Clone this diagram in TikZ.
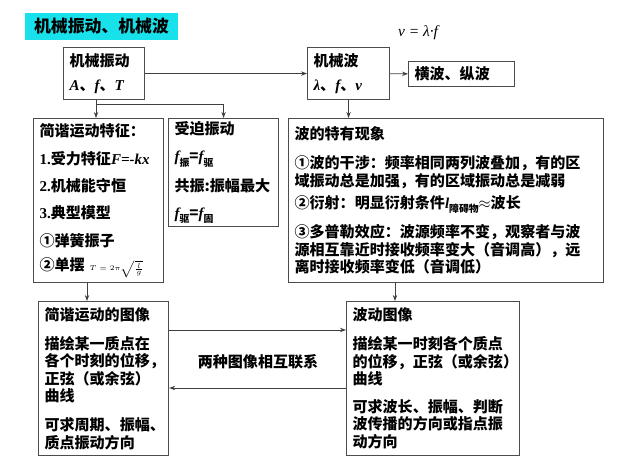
\documentclass[tikz,border=0pt]{standalone}
\usepackage{fontspec}
\newfontfamily\cjk{Noto Sans CJK SC}
\newfontfamily\tms{Liberation Serif}
\usetikzlibrary{arrows.meta,positioning,calc}
\definecolor{ttlcyan}{RGB}{25,225,235}
\newcommand\vr[1]{{\tms\bfseries\itshape #1}}
\newcommand\nm[1]{{\tms\bfseries #1}}
\newcommand\sbs[1]{\raisebox{-0.5ex}{\fontsize{7}{7}\selectfont #1}}

\begin{document}
\begin{tikzpicture}[
  x=0.025cm, y=-0.025cm,
  font={\cjk\bfseries\fontsize{10.7}{12.5}\selectfont},
  bx/.style={draw=black!70, line width=0.8pt, anchor=north west, align=left, inner xsep=0.15cm, inner ysep=0pt},
  ln/.style={draw=black!75, line width=0.6pt},
  ar/.style={ln, -{Stealth[length=1.5mm, width=1.1mm]}}]
\useasboundingbox (0,0) rectangle (640,465);
\node[fill=ttlcyan, minimum width=3.825cm, minimum height=0.675cm, inner sep=0pt, font={\cjk\bfseries\fontsize{12}{14}\selectfont}] (ttl) at (101.5,26.5) {机械振动、机械波};
\node[bx, minimum width=2.025cm, minimum height=1.3cm, text width=1.725cm] (zd) at (63,47) {机械振动\\[5pt]\vr{A}、\vr{f}、\vr{T}};
\node[bx, minimum width=2.05cm, minimum height=1.3cm, text width=1.75cm] (bo) at (307,47) {机械波\\[5pt]\vr{λ}、\vr{f}、\vr{v}};
\node[bx, minimum width=2.65cm, minimum height=0.625cm, text width=2.35cm] (hz) at (408,61) {横波、纵波};
\node[font={\tms\itshape\fontsize{11}{13}\selectfont}] (vf) at (418,33) {v = λ·f};
\node[bx, minimum width=3.25cm, minimum height=4.1cm, text width=2.95cm] (jt) at (33,118) {简谐运动特征：\\[7pt]\nm{1.}受力特征\vr{F=-kx}\\[7pt]\nm{2.}机械能守恒\\[7pt]\nm{3.}典型模型\\[7pt]①弹簧振子\\[5pt]②单摆 {\tiny$T=2\pi\sqrt{\frac{l}{g}}$}};
\node[bx, minimum width=2.75cm, minimum height=2.7cm, text width=2.45cm] (sp) at (168,118) {受迫振动\\[7pt]\vr{f}\sbs{振}=\vr{f}\sbs{驱}\\[7pt]共振:振幅最大\\[7pt]\vr{f}\sbs{驱}=\vr{f}\sbs{固}};
\node[bx, minimum width=7.875cm, minimum height=4.1cm, text width=7.575cm] (xx) at (288,118) {波的特有现象\\[8pt]①波的干涉：频率相同两列波叠加，有的区\\域振动总是加强，有的区域振动总是减弱\\[3pt]②衍射：明显衍射条件\vr{l}\sbs{障碍物}$\approx$波长\\[7pt]③多普勒效应：波源频率不变，观察者与波\\源相互靠近时接收频率变大（音调高），远\\离时接收频率变低（音调低）};
\node[bx, minimum width=3.25cm, minimum height=3.85cm, text width=2.95cm] (tx) at (38,301) {简谐运动的图像\\[8pt]描绘某一质点在\\各个时刻的位移，\\正弦（或余弦）\\曲线\\[8pt]可求周期、振幅、\\质点振动方向};
\node[bx, minimum width=4.325cm, minimum height=3.85cm, text width=4.025cm] (bt) at (346,301) {波动图像\\[8pt]描绘某一时刻各个质点\\的位移，正弦（或余弦）\\曲线\\[7pt]可求波长、振幅、判断\\波传播的方向或指点振\\动方向};
\node (lk) at (258,362) {两种图像相互联系};
\coordinate (j1) at (96,104);
\coordinate (j2) at (87,290);
\coordinate (j3) at (395,290);
\coordinate (up) at (257,330);
\coordinate (dn) at (257,388);
\draw[ar] (zd) -- (bo);
\draw[ar] (bo) -- (hz);
\draw[ar] (zd.south -| j1) -- (jt.north -| j1);
\draw[ar] (j1) -| (sp.north);
\draw[ar] (bo.south) -- (bo.south |- xx.north);
\draw[ar] (jt.south -| j2) -- (tx.north -| j2);
\draw[ar] (xx.south -| j3) -- (bt.north -| j3);
\draw[ar] (tx.east |- up) -- (bt.west |- up);
\draw[ar] (bt.west |- dn) -- (tx.east |- dn);
\end{tikzpicture}
\end{document}
